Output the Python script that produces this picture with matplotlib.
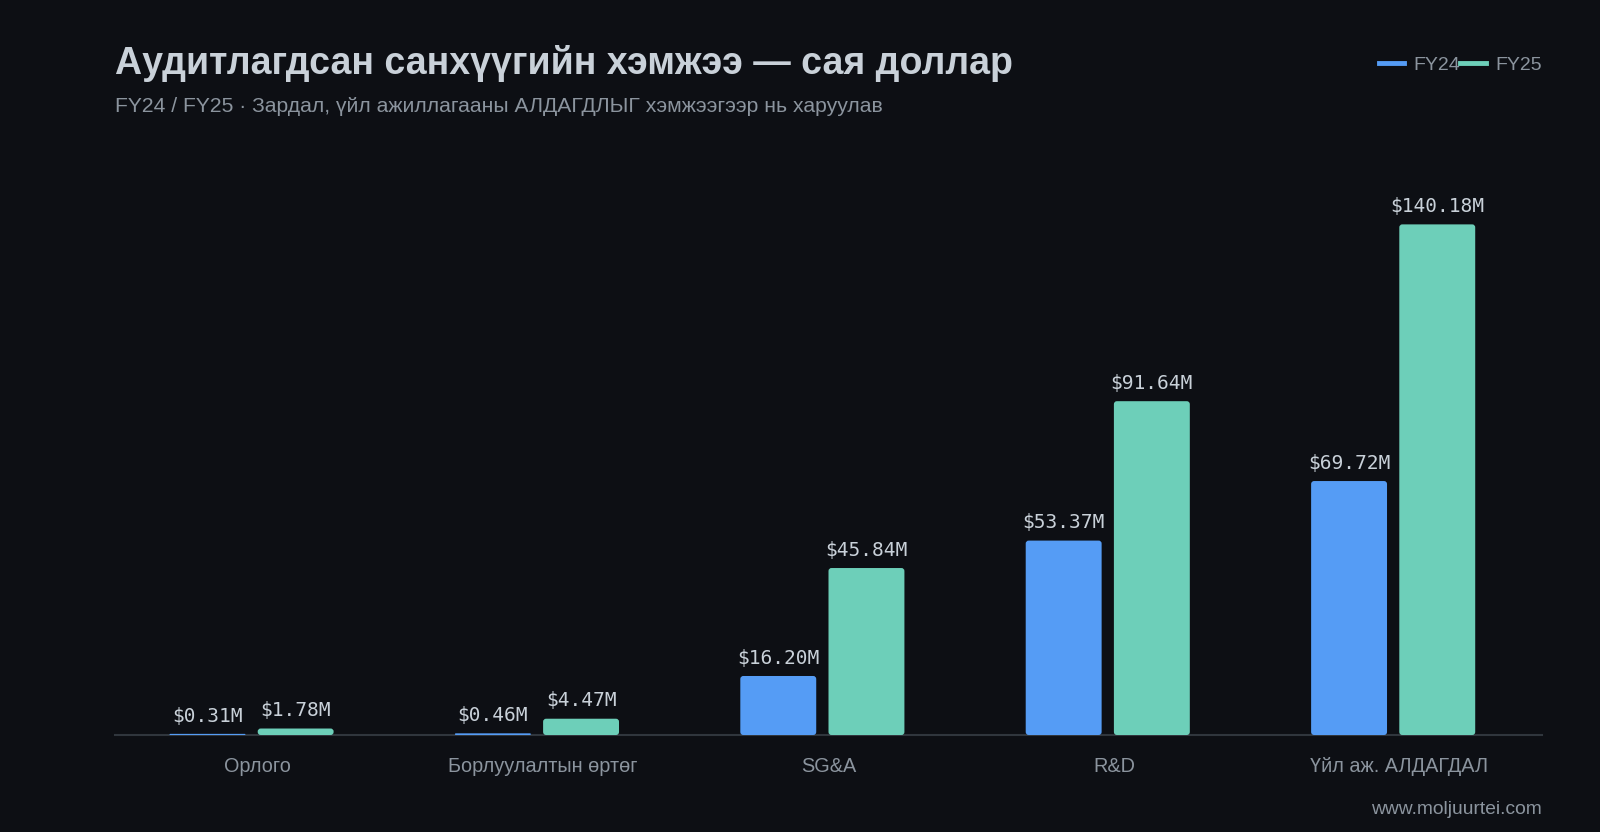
import matplotlib.pyplot as plt
import numpy as np
from matplotlib.patches import FancyBboxPatch
from matplotlib.lines import Line2D

# Chart data
categories = ["Орлого", "Борлуулалтын өртөг", "SG&A", "R&D", "Үйл аж. АЛДАГДАЛ"]
fy24 = [0.31, 0.46, 16.20, 53.37, 69.72]
fy25 = [1.78, 4.47, 45.84, 91.64, 140.18]
series_names = ["FY24", "FY25"]

BG = "#0d0f14"
BLUE = "#559cf5"
TEAL = "#6dcfb9"
TITLE_C = "#c9d1d9"
SUB_C = "#8b949e"
AXIS_C = "#30363d"
SANS = ["Liberation Sans", "DejaVu Sans"]
MONO = ["DejaVu Sans Mono"]

fig = plt.figure(figsize=(16, 8.32), dpi=100, facecolor=BG)
ax = fig.add_axes([115 / 1600, 97 / 832, 1427 / 1600, 585 / 832])
ax.set_facecolor(BG)

x = np.arange(len(categories))
bar_w = 0.266
ax.set_xlim(-0.5, len(categories) - 0.5)
ax.set_ylim(0, 160.6)


def rounded_bars(container, color, r_px=3.0):
    # swap plain rectangles for rounded ones
    px_x = ax.transData.transform((1, 0))[0] - ax.transData.transform((0, 0))[0]
    px_y = ax.transData.transform((0, 1))[1] - ax.transData.transform((0, 0))[1]
    aspect = px_x / px_y
    for rect in container.patches:
        h_px = rect.get_height() * px_y
        r = min(r_px, h_px / 2, rect.get_width() * px_x / 2) / px_x
        patch = FancyBboxPatch(
            (rect.get_x(), rect.get_y()), rect.get_width(), rect.get_height(),
            boxstyle=f"round,pad=0,rounding_size={r}",
            mutation_aspect=aspect, facecolor=color, edgecolor="none", zorder=3,
        )
        ax.add_patch(patch)
        rect.set_visible(False)


b24 = ax.bar(x - 0.309, fy24, bar_w, align="edge", color=BLUE)
b25 = ax.bar(x + 0.0, fy25, bar_w, align="edge", color=TEAL)
rounded_bars(b24, BLUE)
rounded_bars(b25, TEAL)

for cont, vals in [(b24, fy24), (b25, fy25)]:
    for rect, v in zip(cont.patches, vals):
        ax.annotate(
            f"${v:.2f}M",
            (rect.get_x() + rect.get_width() / 2, rect.get_height()),
            xytext=(0, 6), textcoords="offset points",
            ha="center", va="bottom", color=TITLE_C, fontsize=14, family=MONO,
        )

ax.set_xticks(x)
ax.set_xticklabels(categories, family=SANS, fontsize=14.3, color=SUB_C)
ax.tick_params(axis="x", length=0, pad=16)
ax.set_yticks([])
for side in ["top", "right", "left"]:
    ax.spines[side].set_visible(False)
ax.spines["bottom"].set_color(AXIS_C)
ax.spines["bottom"].set_linewidth(1.5)

# Title and subtitle
fig.text(115 / 1600, 1 - 63 / 832, "Аудитлагдсан санхүүгийн хэмжээ — сая доллар",
         family=SANS, fontsize=27, fontweight="bold", color=TITLE_C, va="center")
fig.text(115 / 1600, 1 - 107 / 832,
         "FY24 / FY25 · Зардал, үйл ажиллагааны АЛДАГДЛЫГ хэмжээгээр нь харуулав",
         family=SANS, fontsize=15.2, color=SUB_C, va="center")

# Legend
handles = [Line2D([], [], color=BLUE, lw=3.5), Line2D([], [], color=TEAL, lw=3.5)]
leg = fig.legend(handles, series_names, loc="center right",
                 bbox_to_anchor=(1542 / 1600, 1 - 65 / 832), ncol=2, frameon=False,
                 handlelength=1.3, handletextpad=0.5, columnspacing=0.0,
                 borderaxespad=0, borderpad=0, prop={"family": SANS, "size": 14})
for t in leg.get_texts():
    t.set_color(SUB_C)

# Watermark
fig.text(1542 / 1600, 1 - 810 / 832, "www.moljuurtei.com", family=SANS,
         fontsize=13.9, color=SUB_C, ha="right", va="center")

fig.savefig("out.png", dpi=100, facecolor=BG)
